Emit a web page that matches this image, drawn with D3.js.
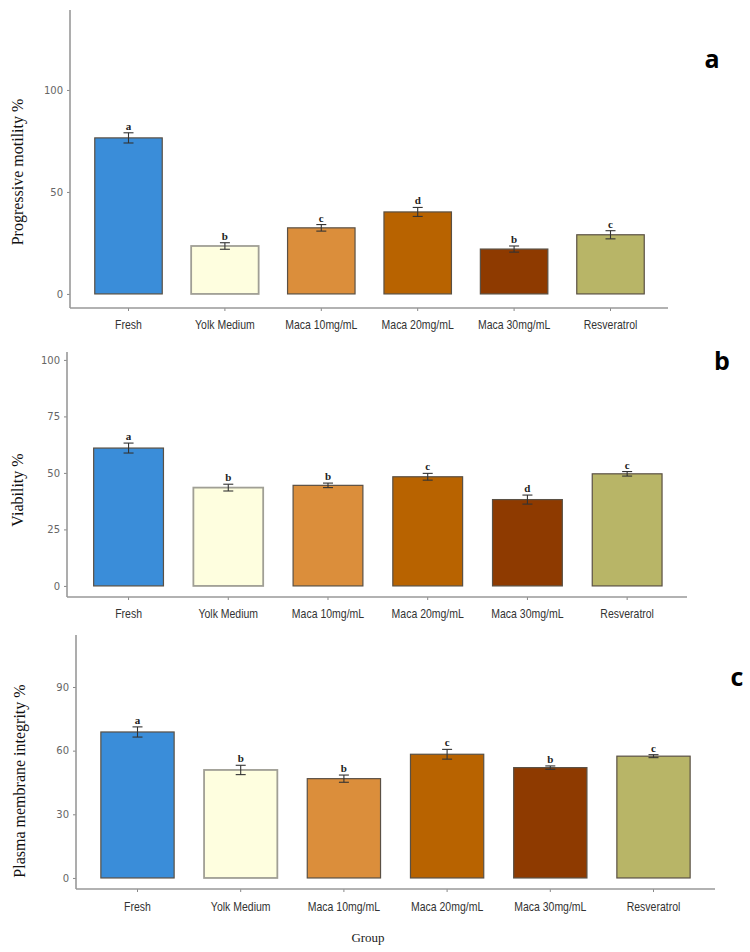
<!DOCTYPE html>
<html>
<head>
<meta charset="utf-8">
<script src="https://cdn.jsdelivr.net/npm/d3@7"></script>
<style>
  body { margin: 0; background: #fff; }
  svg { display: block; }
</style>
</head>
<body>
<div id="visualContainer"></div>
<script>
// groups on the x axis
var groups = ["Fresh", "Yolk Medium", "Maca 10mg/mL", "Maca 20mg/mL", "Maca 30mg/mL", "Resveratrol"];
var barColors = ["#3a8dd9", "#fefedf", "#db8e3b", "#b86300", "#8e3a00", "#b8b567"];

// panel a - progressive motility
var motility = [76.5, 23.5, 32.4, 40.2, 22.0, 29.0];
var motilityErr = [2.5, 1.6, 1.6, 2.2, 1.5, 2.0];
var motilityLetters = ["a", "b", "c", "d", "b", "c"];
var motilityTicks = [0, 50, 100];

// panel b - viability
var viability = [61.0, 43.5, 44.5, 48.3, 38.2, 49.6];
var viabilityErr = [2.2, 1.5, 1.0, 1.5, 2.0, 1.0];
var viabilityLetters = ["a", "b", "b", "c", "d", "c"];
var viabilityTicks = [0, 25, 50, 75, 100];

// panel c - plasma membrane integrity
var integrity = [68.8, 50.9, 46.8, 58.3, 52.0, 57.4];
var integrityErr = [2.4, 2.2, 1.7, 2.3, 0.8, 0.7];
var integrityLetters = ["a", "b", "b", "c", "b", "c"];
var integrityTicks = [0, 30, 60, 90];

svgCanvas = d3.select("#visualContainer")
  .append("svg")
  .attr("width", 750)
  .attr("height", 952);

function drawPanel(p) {
  var g = svgCanvas.append("g");

  var y = d3.scaleLinear().domain(p.yDomain).range([p.axisY, p.axisTop]);
  var x = d3.scaleBand().domain(groups).range(p.xRange).paddingInner(p.pad).paddingOuter(p.pad / 2);

  var rows = groups.map(function(name, i) {
    return {name: name, v: p.values[i], e: p.errs[i], l: p.letters[i], c: barColors[i]};
  });

  // bars
  g.selectAll("rect.bar")
    .data(rows)
    .enter()
      .append("rect")
        .attr("class", "bar")
        .attr("x", function(d){ return x(d.name); })
        .attr("width", x.bandwidth())
        .attr("y", function(d){ return y(d.v); })
        .attr("height", function(d){ return y(0) - y(d.v); })
        .attr("fill", function(d){ return d.c; })
        .attr("stroke", function(d, i){ return i == 1 ? "#a09f95" : "#5a5044"; })
        .attr("stroke-width", function(d, i){ return i == 1 ? 1.8 : 1.2; });

  // error bars
  var eb = g.selectAll("g.err")
    .data(rows)
    .enter()
      .append("g")
        .attr("class", "err")
        .attr("stroke", "#333")
        .attr("stroke-width", 1.1);
  eb.append("line")
    .attr("x1", function(d){ return x(d.name) + x.bandwidth() / 2; })
    .attr("x2", function(d){ return x(d.name) + x.bandwidth() / 2; })
    .attr("y1", function(d){ return y(d.v - d.e); })
    .attr("y2", function(d){ return y(d.v + d.e); });
  [-1, 1].forEach(function(s) {
    eb.append("line")
      .attr("x1", function(d){ return x(d.name) + x.bandwidth() / 2 - 5; })
      .attr("x2", function(d){ return x(d.name) + x.bandwidth() / 2 + 5; })
      .attr("y1", function(d){ return y(d.v + s * d.e); })
      .attr("y2", function(d){ return y(d.v + s * d.e); });
  });

  // significance letters
  g.selectAll("text.sig")
    .data(rows)
    .enter()
      .append("text")
        .attr("class", "sig")
        .attr("x", function(d){ return x(d.name) + x.bandwidth() / 2; })
        .attr("y", function(d){ return y(d.v + d.e) - 3; })
        .attr("text-anchor", "middle")
        .attr("font-family", "Liberation Serif, serif")
        .attr("font-weight", "bold")
        .attr("font-size", 11)
        .attr("fill", "#222")
        .text(function(d){ return d.l; });

  // y axis
  var yAxis = g.append("g")
    .attr("transform", "translate(" + p.axisX + ",0)")
    .call(d3.axisLeft(y).tickValues(p.ticks).tickSize(3).tickPadding(4));
  yAxis.select(".domain").remove();
  yAxis.selectAll(".tick line").attr("stroke", "#888");
  yAxis.selectAll(".tick text")
    .attr("fill", "#666")
    .attr("font-family", "DejaVu Sans, sans-serif")
    .attr("font-size", 10);

  // x axis (labels squeezed to look like a narrow font)
  var xAxis = g.append("g")
    .attr("transform", "translate(0," + p.axisY + ")")
    .call(d3.axisBottom(x).tickSize(3).tickPadding(p.labelPad));
  xAxis.select(".domain").remove();
  xAxis.selectAll(".tick line").attr("stroke", "#888");
  xAxis.selectAll(".tick text")
    .attr("fill", "#333")
    .attr("font-family", "Liberation Sans Narrow, Liberation Sans, sans-serif")
    .attr("font-size", 12.5)
    .attr("transform", "scale(0.84,1)");

  // axis lines
  g.append("line")
    .attr("x1", p.axisX).attr("x2", p.axisX)
    .attr("y1", p.axisTop).attr("y2", p.axisY)
    .attr("stroke", "#999").attr("stroke-width", 1.6);
  g.append("line")
    .attr("x1", p.axisX).attr("x2", p.axisRight)
    .attr("y1", p.axisY).attr("y2", p.axisY)
    .attr("stroke", "#999").attr("stroke-width", 1.6);

  // y title
  g.append("text")
    .attr("transform", "translate(" + p.titleX + "," + p.titleY + ") rotate(-90)")
    .attr("text-anchor", "middle")
    .attr("font-family", "Liberation Serif, serif")
    .attr("font-size", 16)
    .attr("fill", "#111")
    .text(p.title);

  // panel letter
  g.append("text")
    .attr("x", p.tagX)
    .attr("y", p.tagY)
    .attr("text-anchor", "middle")
    .attr("font-family", "Open Sans, sans-serif")
    .attr("font-weight", "bold")
    .attr("font-size", 25)
    .attr("fill", "#000")
    .text(p.tag);
}

drawPanel({
  values: motility, errs: motilityErr, letters: motilityLetters, ticks: motilityTicks,
  yDomain: [-6.9, 139.2], axisY: 308, axisTop: 10, axisX: 70, axisRight: 668,
  xRange: [80.3, 658.7], pad: 0.3, labelPad: 9,
  title: "Progressive motility %", titleX: 23, titleY: 172,
  tag: "a", tagX: 712, tagY: 68
});

drawPanel({
  values: viability, errs: viabilityErr, letters: viabilityLetters, ticks: viabilityTicks,
  yDomain: [-4.9, 103.5], axisY: 597, axisTop: 352, axisX: 67, axisRight: 687,
  xRange: [78.7, 677], pad: 0.3, labelPad: 9,
  title: "Viability %", titleX: 23, titleY: 490,
  tag: "b", tagX: 722, tagY: 370
});

drawPanel({
  values: integrity, errs: integrityErr, letters: integrityLetters, ticks: integrityTicks,
  yDomain: [-5.2, 114.5], axisY: 889, axisTop: 635, axisX: 76, axisRight: 715,
  xRange: [85.9, 705.1], pad: 0.29, labelPad: 10,
  title: "Plasma membrane integrity %", titleX: 25, titleY: 781,
  tag: "c", tagX: 737, tagY: 686
});

// shared x title
svgCanvas.append("text")
  .attr("x", 368)
  .attr("y", 942)
  .attr("text-anchor", "middle")
  .attr("font-family", "Liberation Serif, serif")
  .attr("font-size", 13)
  .attr("fill", "#222")
  .text("Group");
</script>
</body>
</html>
